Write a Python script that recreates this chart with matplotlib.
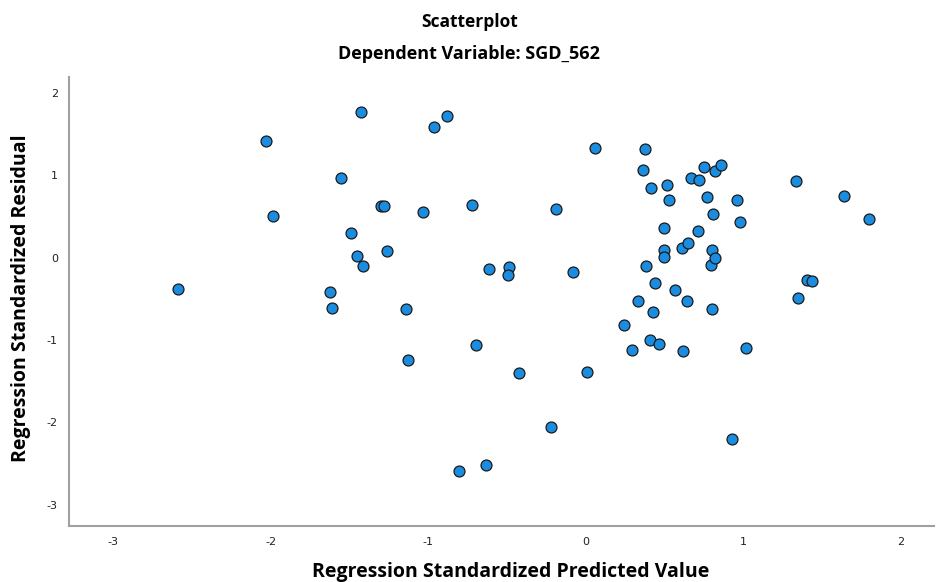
import matplotlib
matplotlib.use('Agg')
import matplotlib.pyplot as plt

plt.rcParams['axes.unicode_minus'] = False

# predicted (x) and residual (y) values
pred = [-2.590, -2.030, -1.987, -1.625, -1.611, -1.556, -1.490, -1.450, -1.424, -1.416,
        -1.300, -1.283, -1.261, -1.141, -1.130, -1.035, -0.963, -0.880, -0.806, -0.724,
        -0.696, -0.633, -0.612, -0.489, -0.493, -0.423, -0.220, -0.189, -0.083, 0.006,
        0.061, 0.241, 0.296, 0.334, 0.366, 0.379, 0.381, 0.406, 0.417, 0.427,
        0.438, 0.468, 0.495, 0.497, 0.497, 0.516, 0.527, 0.565, 0.612, 0.620,
        0.641, 0.652, 0.667, 0.711, 0.720, 0.751, 0.768, 0.796, 0.800, 0.800,
        0.811, 0.819, 0.823, 0.857, 0.927, 0.959, 0.978, 1.016, 1.333, 1.346,
        1.403, 1.435, 1.638, 1.801]
resid = [-0.374, 1.423, 0.512, -0.415, -0.606, 0.963, 0.301, 0.016, 1.772, -0.098,
         0.634, 0.626, 0.077, -0.618, -1.244, 0.561, 1.585, 1.716, -2.594, 0.642,
         -1.061, -2.516, -0.134, -0.114, -0.207, -1.398, -2.053, 0.593, -0.179, -1.390,
         1.329, -0.821, -1.116, -0.520, 1.061, 1.317, -0.102, -1.000, 0.850, -0.663,
         -0.313, -1.045, 0.366, 0.095, 0.012, 0.882, 0.699, -0.390, 0.118, -1.130,
         -0.524, 0.183, 0.972, 0.325, 0.939, 1.098, 0.732, -0.085, 0.090, -0.618,
         0.528, 1.053, -0.005, 1.126, -2.204, 0.707, 0.431, -1.102, 0.931, -0.495,
         -0.268, -0.284, 0.748, 0.472]

xticks = [-3, -2, -1, 0, 1, 2]
yticks = [-3, -2, -1, 0, 1, 2]

fig = plt.figure(figsize=(9.39, 5.82), dpi=100)
ax = fig.add_axes([0.0735, 0.096, 0.921, 0.771])

ax.scatter(pred, resid, s=62, c='#1a8de0', edgecolors='#1a1a1a', linewidths=0.9, zorder=3)

ax.set_xlim(-3.28, 2.21)
ax.set_ylim(-3.26, 2.19)
ax.set_xticks(xticks)
ax.set_yticks(yticks)
ax.tick_params(length=0, labelsize=8, colors='#222222', pad=8)

for s in ['top', 'right']:
    ax.spines[s].set_visible(False)
for s in ['left', 'bottom']:
    ax.spines[s].set_color('#a0a0a0')
    ax.spines[s].set_linewidth(1.5)

fig.text(0.5, 0.963, 'Scatterplot', ha='center', va='center',
         fontsize=12.5, fontweight='bold', family='Open Sans')
fig.text(0.5, 0.908, 'Dependent Variable: SGD_562', ha='center', va='center',
         fontsize=13, fontweight='bold', family='Open Sans')
fig.text(0.544, 0.008, 'Regression Standardized Predicted Value', ha='center', va='baseline',
         fontsize=14, fontweight='bold', family='Open Sans')
fig.text(0.022, 0.488, 'Regression Standardized Residual', ha='center', va='center',
         rotation=90, fontsize=14, fontweight='bold', family='Open Sans')

plt.savefig('out.png', dpi=100)
